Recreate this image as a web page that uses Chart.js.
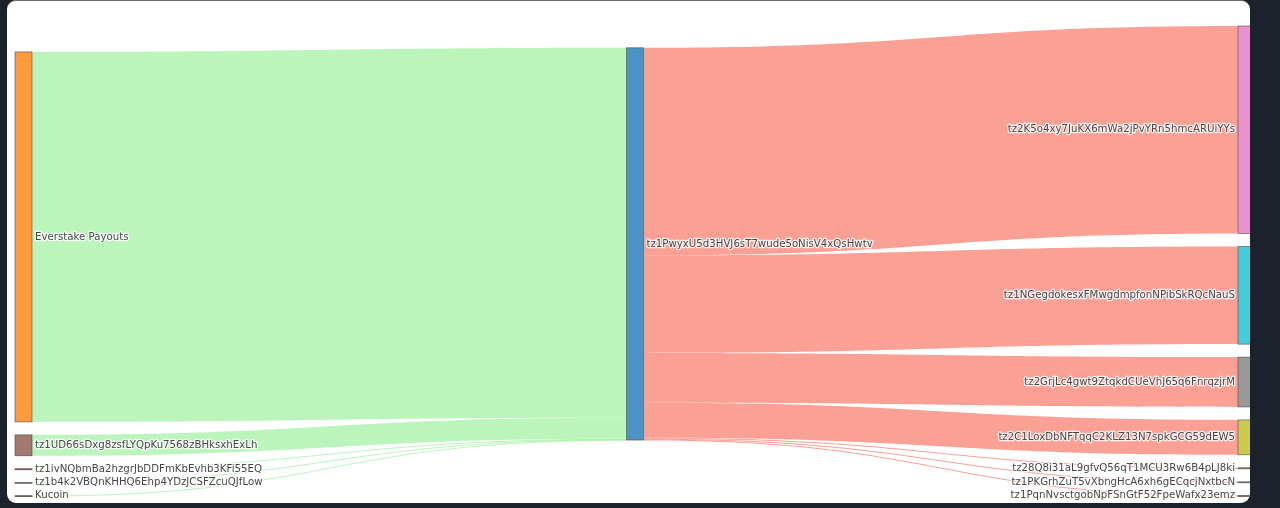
<!DOCTYPE html>
<html>
<head>
<meta charset="utf-8">
<script src="https://cdn.jsdelivr.net/npm/chart.js@4.4.1/dist/chart.umd.min.js"></script>
<style>
  body { margin: 0; background: #1b222b; }
  #panel {
    position: absolute; left: 7px; top: 0; width: 1243px; height: 503px;
    background: #fff; border-radius: 9px; border-top: 1px solid #6a6e74;
    box-sizing: border-box; overflow: hidden;
  }
  canvas { display: block; }
</style>
</head>
<body>
<div id="panel"><canvas id="sankey" width="1243" height="502"></canvas></div>
<script>
// left column -> hub
const sources = [
  'Everstake Payouts',
  'tz1UD66sDxg8zsfLYQpKu7568zBHksxhExLh',
  'tz1ivNQbmBa2hzgrJbDDFmKbEvhb3KFi55EQ',
  'tz1b4k2VBQnKHHQ6Ehp4YDzJCSFZcuQJfLow',
  'Kucoin'
];
const sourceValues = [37100, 2100, 60, 40, 30];
const sourceColors = ['rgba(255,127,14,0.8)', 'rgba(140,86,75,0.8)', 'rgba(150,40,40,0.9)', 'rgba(110,110,110,0.9)', 'rgba(60,60,60,0.9)'];

const hub = 'tz1PwyxU5d3HVJ6sT7wude5oNisV4xQsHwtv';
const hubColor = 'rgba(31,119,180,0.8)';

// hub -> right column
const targets = [
  'tz2K5o4xy7JuKX6mWa2jPvYRn5hmcARUiYYs',
  'tz1NGegdokesxFMwgdmpfonNPibSkRQcNauS',
  'tz2GrjLc4gwt9ZtqkdCUeVhJ65q6FnrqzjrM',
  'tz2C1LoxDbNFTqqC2KLZ13N7spkGCG59dEW5',
  'tz28Q8i31aL9gfvQ56qT1MCU3Rw6B4pLJ8ki',
  'tz1PKGrhZuT5vXbngHcA6xh6gECqcjNxtbcN',
  'tz1PqnNvsctgobNpFSnGtF52FpeWafx23emz'
];
const targetValues = [20800, 9800, 5000, 3500, 110, 70, 50];
const targetColors = ['rgba(227,119,194,0.8)', 'rgba(23,190,207,0.8)', 'rgba(127,127,127,0.8)', 'rgba(188,189,34,0.8)', 'rgba(190,115,50,1)', 'rgba(110,110,110,0.9)', 'rgba(60,60,60,0.9)'];

const inColor = 'rgba(144,238,144,0.6)';
const outColor = 'rgba(250,128,114,0.75)';

const NODE_PAD = 1300; // gap between nodes, in value units
const NODE_W = 17;     // node width, px
const PULL_IN = 0.7;   // how much the hub follows its sources vs its targets

const sum = a => a.reduce((s, v) => s + v, 0);
const colExtent = vals => sum(vals) + (vals.length - 1) * NODE_PAD;
const yMax = Math.max(colExtent(sourceValues), colExtent(targetValues));

// stack a column from the bottom of the value axis, top value first
function stackColumn(vals) {
  let cur = colExtent(vals);
  return vals.map(v => {
    const n = { top: cur, bottom: cur - v };
    cur = n.bottom - NODE_PAD;
    return n;
  });
}

// hub top where its links would run level with the column nodes
function idealTop(col, vals) {
  let off = 0, acc = 0;
  col.forEach((n, i) => { acc += (n.top + off) * vals[i]; off += vals[i]; });
  return acc / sum(vals);
}

function band(ctx, x0, a0, b0, x1, a1, b1) {
  const xm = (x0 + x1) / 2;
  if (b0 - a0 < 1) { b0 = a0 + 1; }
  if (b1 - a1 < 1) { b1 = a1 + 1; }
  ctx.beginPath();
  ctx.moveTo(x0, a0);
  ctx.bezierCurveTo(xm, a0, xm, a1, x1, a1);
  ctx.lineTo(x1, b1);
  ctx.bezierCurveTo(xm, b1, xm, b0, x0, b0);
  ctx.closePath();
  ctx.fill();
}

function node(ctx, x, yTop, yBot, color) {
  let h = yBot - yTop;
  if (h < 1) { h = 1; }
  ctx.fillStyle = color;
  ctx.fillRect(x, yTop, NODE_W, h);
  ctx.strokeStyle = 'rgba(68,68,68,0.9)';
  ctx.lineWidth = 0.6;
  ctx.strokeRect(x, yTop, NODE_W, h);
}

function label(ctx, text, x, y, align) {
  ctx.font = '10.2px "DejaVu Sans", Verdana, sans-serif';
  ctx.textAlign = align;
  ctx.textBaseline = 'middle';
  ctx.lineJoin = 'round';
  ctx.strokeStyle = 'rgba(255,255,255,0.85)';
  ctx.lineWidth = 2.5;
  ctx.strokeText(text, x, y);
  ctx.fillStyle = '#474747';
  ctx.fillText(text, x, y);
}

const sankeyPlugin = {
  id: 'sankey',
  afterDraw(chart) {
    const ctx = chart.ctx;
    const xs = chart.scales.x, ys = chart.scales.y;
    const py = v => ys.getPixelForValue(v);

    const left = stackColumn(sourceValues);
    const right = stackColumn(targetValues);

    const total = sum(sourceValues);
    const hubTop = PULL_IN * idealTop(left, sourceValues) + (1 - PULL_IN) * idealTop(right, targetValues);

    const x0 = xs.getPixelForValue(0), x1 = xs.getPixelForValue(1), x2 = xs.getPixelForValue(2);

    ctx.save();
    // incoming flows
    ctx.fillStyle = inColor;
    let cur = hubTop;
    left.forEach((n, i) => {
      band(ctx, x0 + NODE_W, py(n.top), py(n.bottom), x1, py(cur), py(cur - sourceValues[i]));
      cur -= sourceValues[i];
    });
    // outgoing flows
    ctx.fillStyle = outColor;
    cur = hubTop;
    right.forEach((n, i) => {
      band(ctx, x1 + NODE_W, py(cur), py(cur - targetValues[i]), x2, py(n.top), py(n.bottom));
      cur -= targetValues[i];
    });

    left.forEach((n, i) => node(ctx, x0, py(n.top), py(n.bottom), sourceColors[i]));
    node(ctx, x1, py(hubTop), py(hubTop - total), hubColor);
    right.forEach((n, i) => node(ctx, x2, py(n.top), py(n.bottom), targetColors[i]));

    left.forEach((n, i) => label(ctx, sources[i], x0 + NODE_W + 3, py((n.top + n.bottom) / 2), 'left'));
    label(ctx, hub, x1 + NODE_W + 3, py(hubTop - total / 2), 'left');
    right.forEach((n, i) => label(ctx, targets[i], x2 - 3, py((n.top + n.bottom) / 2), 'right'));
    ctx.restore();
  }
};

new Chart(document.getElementById('sankey'), {
  type: 'scatter',
  data: { datasets: [{ data: [] }] },
  options: {
    responsive: false,
    animation: false,
    layout: { padding: { left: 8, right: 12, top: 25, bottom: 7 } },
    plugins: { legend: { display: false }, tooltip: { enabled: false } },
    scales: {
      x: { type: 'linear', min: 0, max: 2, display: false },
      y: { type: 'linear', min: 0, max: yMax, display: false }
    }
  },
  plugins: [sankeyPlugin]
});
</script>
</body>
</html>
